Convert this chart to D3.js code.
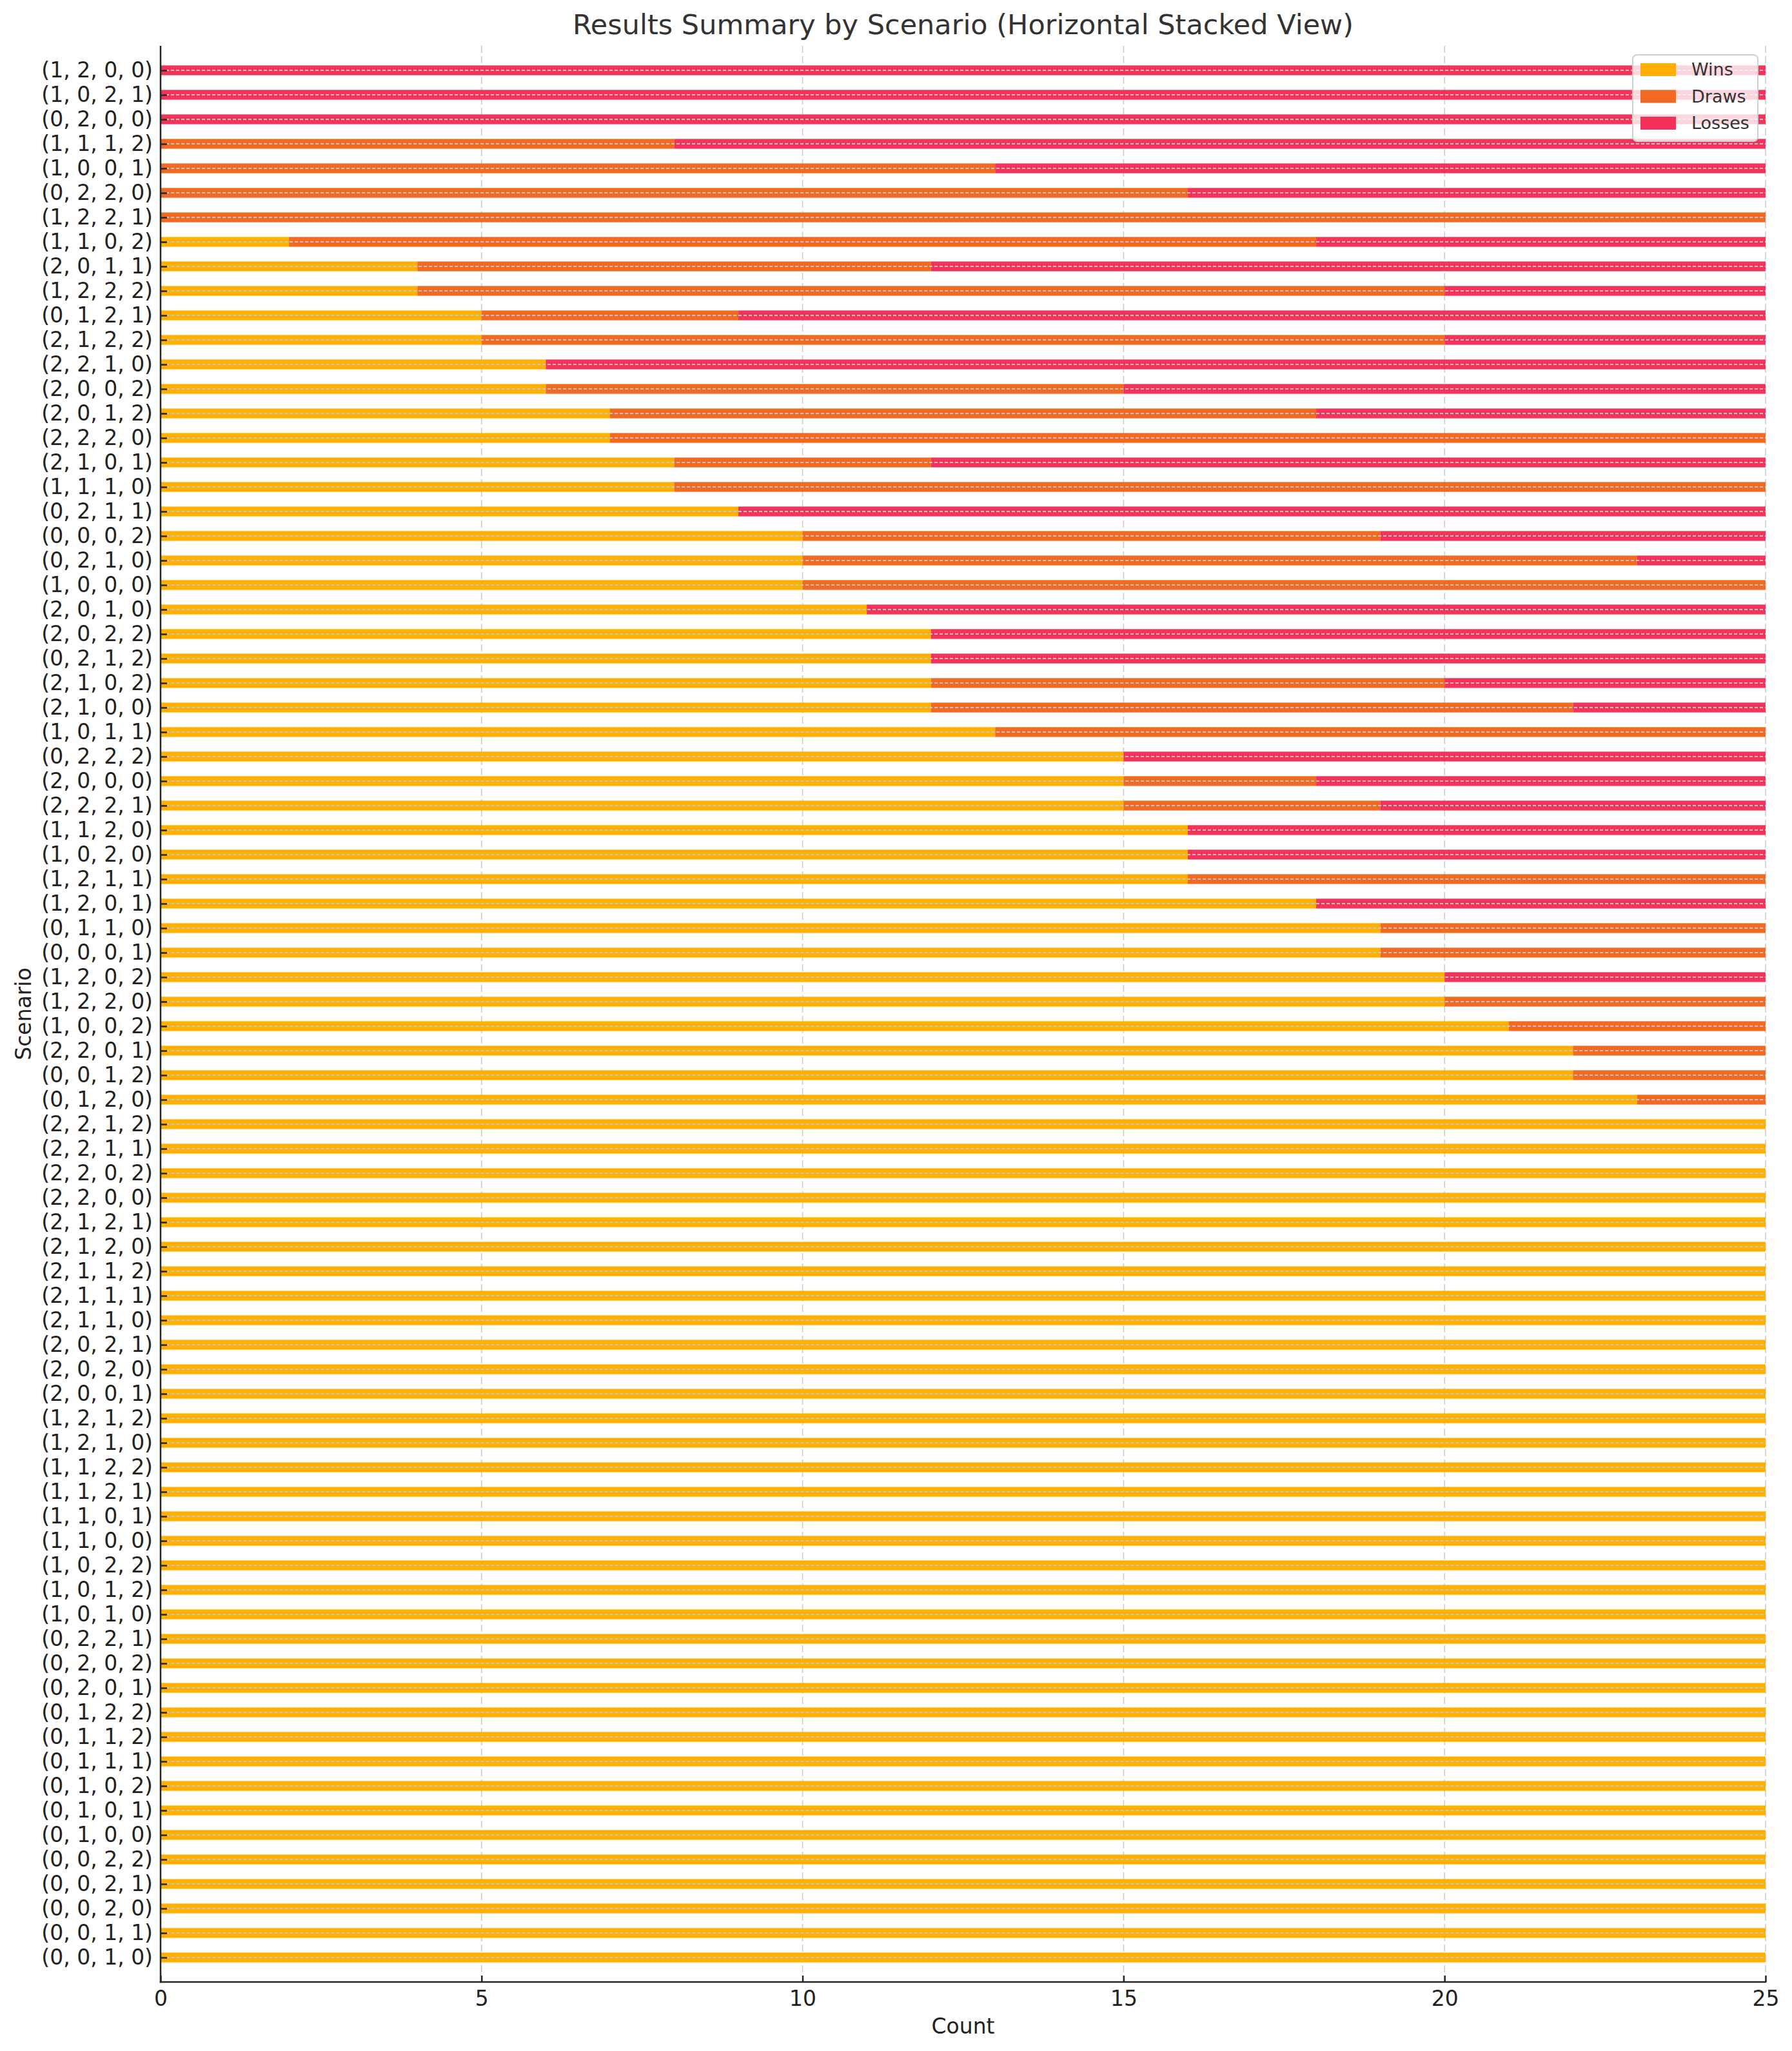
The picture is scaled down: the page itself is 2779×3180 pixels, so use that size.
<!DOCTYPE html>
<html>
<head>
<meta charset="utf-8">
<script src="https://cdn.jsdelivr.net/npm/d3@7"></script>
<style>
  html, body { margin: 0; padding: 0; background: #ffffff; }
  svg { display: block; font-family: "DejaVu Sans", sans-serif; }
</style>
</head>
<body>
<script>
// Scenarios listed from bottom of the chart (index 0) to top
const scenarios = [
  "(0, 0, 1, 0)", "(0, 0, 1, 1)", "(0, 0, 2, 0)", "(0, 0, 2, 1)", "(0, 0, 2, 2)",
  "(0, 1, 0, 0)", "(0, 1, 0, 1)", "(0, 1, 0, 2)", "(0, 1, 1, 1)", "(0, 1, 1, 2)",
  "(0, 1, 2, 2)", "(0, 2, 0, 1)", "(0, 2, 0, 2)", "(0, 2, 2, 1)", "(1, 0, 1, 0)",
  "(1, 0, 1, 2)", "(1, 0, 2, 2)", "(1, 1, 0, 0)", "(1, 1, 0, 1)", "(1, 1, 2, 1)",
  "(1, 1, 2, 2)", "(1, 2, 1, 0)", "(1, 2, 1, 2)", "(2, 0, 0, 1)", "(2, 0, 2, 0)",
  "(2, 0, 2, 1)", "(2, 1, 1, 0)", "(2, 1, 1, 1)", "(2, 1, 1, 2)", "(2, 1, 2, 0)",
  "(2, 1, 2, 1)", "(2, 2, 0, 0)", "(2, 2, 0, 2)", "(2, 2, 1, 1)", "(2, 2, 1, 2)",
  "(0, 1, 2, 0)", "(0, 0, 1, 2)", "(2, 2, 0, 1)", "(1, 0, 0, 2)", "(1, 2, 2, 0)",
  "(1, 2, 0, 2)", "(0, 0, 0, 1)", "(0, 1, 1, 0)", "(1, 2, 0, 1)", "(1, 2, 1, 1)",
  "(1, 0, 2, 0)", "(1, 1, 2, 0)", "(2, 2, 2, 1)", "(2, 0, 0, 0)", "(0, 2, 2, 2)",
  "(1, 0, 1, 1)", "(2, 1, 0, 0)", "(2, 1, 0, 2)", "(0, 2, 1, 2)", "(2, 0, 2, 2)",
  "(2, 0, 1, 0)", "(1, 0, 0, 0)", "(0, 2, 1, 0)", "(0, 0, 0, 2)", "(0, 2, 1, 1)",
  "(1, 1, 1, 0)", "(2, 1, 0, 1)", "(2, 2, 2, 0)", "(2, 0, 1, 2)", "(2, 0, 0, 2)",
  "(2, 2, 1, 0)", "(2, 1, 2, 2)", "(0, 1, 2, 1)", "(1, 2, 2, 2)", "(2, 0, 1, 1)",
  "(1, 1, 0, 2)", "(1, 2, 2, 1)", "(0, 2, 2, 0)", "(1, 0, 0, 1)", "(1, 1, 1, 2)",
  "(0, 2, 0, 0)", "(1, 0, 2, 1)", "(1, 2, 0, 0)"
];

const wins = [
  25, 25, 25, 25, 25, 25, 25, 25, 25, 25,
  25, 25, 25, 25, 25, 25, 25, 25, 25, 25,
  25, 25, 25, 25, 25, 25, 25, 25, 25, 25,
  25, 25, 25, 25, 25,
  23, 22, 22, 21, 20, 20, 19, 19, 18, 16,
  16, 16, 15, 15, 15, 13, 12, 12, 12, 12,
  11, 10, 10, 10, 9, 8, 8, 7, 7, 6,
  6, 5, 5, 4, 4, 2, 0, 0, 0, 0,
  0, 0, 0
];

const draws = [
  0, 0, 0, 0, 0, 0, 0, 0, 0, 0,
  0, 0, 0, 0, 0, 0, 0, 0, 0, 0,
  0, 0, 0, 0, 0, 0, 0, 0, 0, 0,
  0, 0, 0, 0, 0,
  2, 3, 3, 4, 5, 0, 6, 6, 0, 9,
  0, 0, 4, 3, 0, 12, 10, 8, 0, 0,
  0, 15, 13, 9, 0, 17, 4, 18, 11, 9,
  0, 15, 4, 16, 8, 16, 25, 16, 13, 8,
  0, 0, 0
];

const losses = [
  0, 0, 0, 0, 0, 0, 0, 0, 0, 0,
  0, 0, 0, 0, 0, 0, 0, 0, 0, 0,
  0, 0, 0, 0, 0, 0, 0, 0, 0, 0,
  0, 0, 0, 0, 0,
  0, 0, 0, 0, 0, 5, 0, 0, 7, 0,
  9, 9, 6, 7, 10, 0, 3, 5, 13, 13,
  14, 0, 2, 6, 16, 0, 13, 0, 7, 10,
  19, 5, 16, 5, 13, 7, 0, 9, 12, 17,
  25, 25, 25
];

const seriesNames = ["Wins", "Draws", "Losses"];
const seriesColors = ["#FFB000", "#F26922", "#F43158"];
const xTicks = [0, 5, 10, 15, 20, 25];

const W = 2779, H = 3180;
const M = { left: 249, right: 2738, top: 71, bottom: 3073 };

const table = scenarios.map((s, i) => ({ idx: i, scenario: s, Wins: wins[i], Draws: draws[i], Losses: losses[i] }));

const svg = d3.select("body").append("svg").attr("width", W).attr("height", H);
svg.append("rect").attr("width", W).attr("height", H).attr("fill", "#ffffff");

const x = d3.scaleLinear().domain([0, 25]).range([M.left, M.right]);
const y = d3.scaleLinear().domain([-1, scenarios.length]).range([M.bottom, M.top]);
const barH = Math.abs(y(0.2) - y(-0.2));

// vertical grid (behind bars)
svg.append("g").selectAll("line").data(xTicks).join("line")
  .attr("x1", d => x(d)).attr("x2", d => x(d))
  .attr("y1", M.top).attr("y2", M.bottom)
  .attr("stroke", "#cccccc").attr("stroke-width", 1.6)
  .attr("stroke-dasharray", "11,5");

// stacked bars
const stack = d3.stack().keys(seriesNames);
const stacked = stack(table);
const color = d3.scaleOrdinal().domain(seriesNames).range(seriesColors);

svg.append("g").selectAll("g").data(stacked).join("g")
  .attr("fill", d => color(d.key))
  .selectAll("rect").data(d => d.filter(v => v[1] - v[0] > 0)).join("rect")
  .attr("x", d => x(d[0]))
  .attr("width", d => x(d[1]) - x(d[0]))
  .attr("y", d => y(d.data.idx) - barH / 2)
  .attr("height", barH);

// horizontal grid (drawn over bars)
svg.append("g").selectAll("line").data(d3.range(scenarios.length)).join("line")
  .attr("x1", M.left).attr("x2", M.right)
  .attr("y1", d => y(d)).attr("y2", d => y(d))
  .attr("stroke", "#c4c4c4").attr("stroke-width", 2)
  .attr("stroke-dasharray", "5,3");

// y axis
const yAxis = d3.axisLeft(y)
  .tickValues(d3.range(scenarios.length))
  .tickFormat(i => scenarios[i])
  .tickSizeInner(-10).tickSizeOuter(0).tickPadding(12);
const gy = svg.append("g").attr("transform", `translate(${M.left},0)`).call(yAxis);
gy.select(".domain").remove();
gy.selectAll(".tick line").attr("stroke", "#262626").attr("stroke-width", 2.5);
gy.selectAll(".tick text").attr("font-size", 33).attr("fill", "#222222")
  .attr("font-family", "DejaVu Sans, sans-serif");

// x axis
const xAxis = d3.axisBottom(x).tickValues(xTicks).tickFormat(d3.format("d"))
  .tickSizeInner(-10).tickSizeOuter(0).tickPadding(14);
const gx = svg.append("g").attr("transform", `translate(0,${M.bottom})`).call(xAxis);
gx.select(".domain").remove();
gx.selectAll(".tick line").attr("stroke", "#262626").attr("stroke-width", 2.5);
gx.selectAll(".tick text").attr("font-size", 33).attr("fill", "#222222")
  .attr("font-family", "DejaVu Sans, sans-serif");

// spines (left & bottom)
svg.append("line").attr("x1", M.left).attr("x2", M.left).attr("y1", M.top).attr("y2", M.bottom + 1.25)
  .attr("stroke", "#262626").attr("stroke-width", 2.5);
svg.append("line").attr("x1", M.left - 1.25).attr("x2", M.right + 1.25).attr("y1", M.bottom).attr("y2", M.bottom)
  .attr("stroke", "#262626").attr("stroke-width", 2.5);

// title
svg.append("text").attr("x", (M.left + M.right) / 2).attr("y", 53)
  .attr("text-anchor", "middle").attr("font-size", 43).attr("fill", "#333333")
  .text("Results Summary by Scenario (Horizontal Stacked View)");

// axis labels
svg.append("text").attr("x", (M.left + M.right) / 2).attr("y", 3153)
  .attr("text-anchor", "middle").attr("font-size", 33).attr("fill", "#222222")
  .text("Count");
svg.append("text").attr("transform", `translate(48,${(M.top + M.bottom) / 2}) rotate(-90)`)
  .attr("text-anchor", "middle").attr("font-size", 33).attr("fill", "#222222")
  .text("Scenario");

// legend
const lg = svg.append("g");
lg.append("rect").attr("x", 2532).attr("y", 85).attr("width", 194).attr("height", 134)
  .attr("rx", 7).attr("fill", "#ffffff").attr("fill-opacity", 0.8)
  .attr("stroke", "#d0d0d0").attr("stroke-width", 2);
const items = lg.selectAll("g.item").data(seriesNames).join("g").attr("class", "item")
  .attr("transform", (d, i) => `translate(2544,${108 + i * 41.5})`);
items.append("rect").attr("x", 0).attr("y", -10).attr("width", 55).attr("height", 20)
  .attr("fill", d => color(d));
items.append("text").attr("x", 79).attr("y", 0).attr("dy", "0.35em")
  .attr("font-size", 27).attr("fill", "#333333").text(d => d);
</script>
</body>
</html>
